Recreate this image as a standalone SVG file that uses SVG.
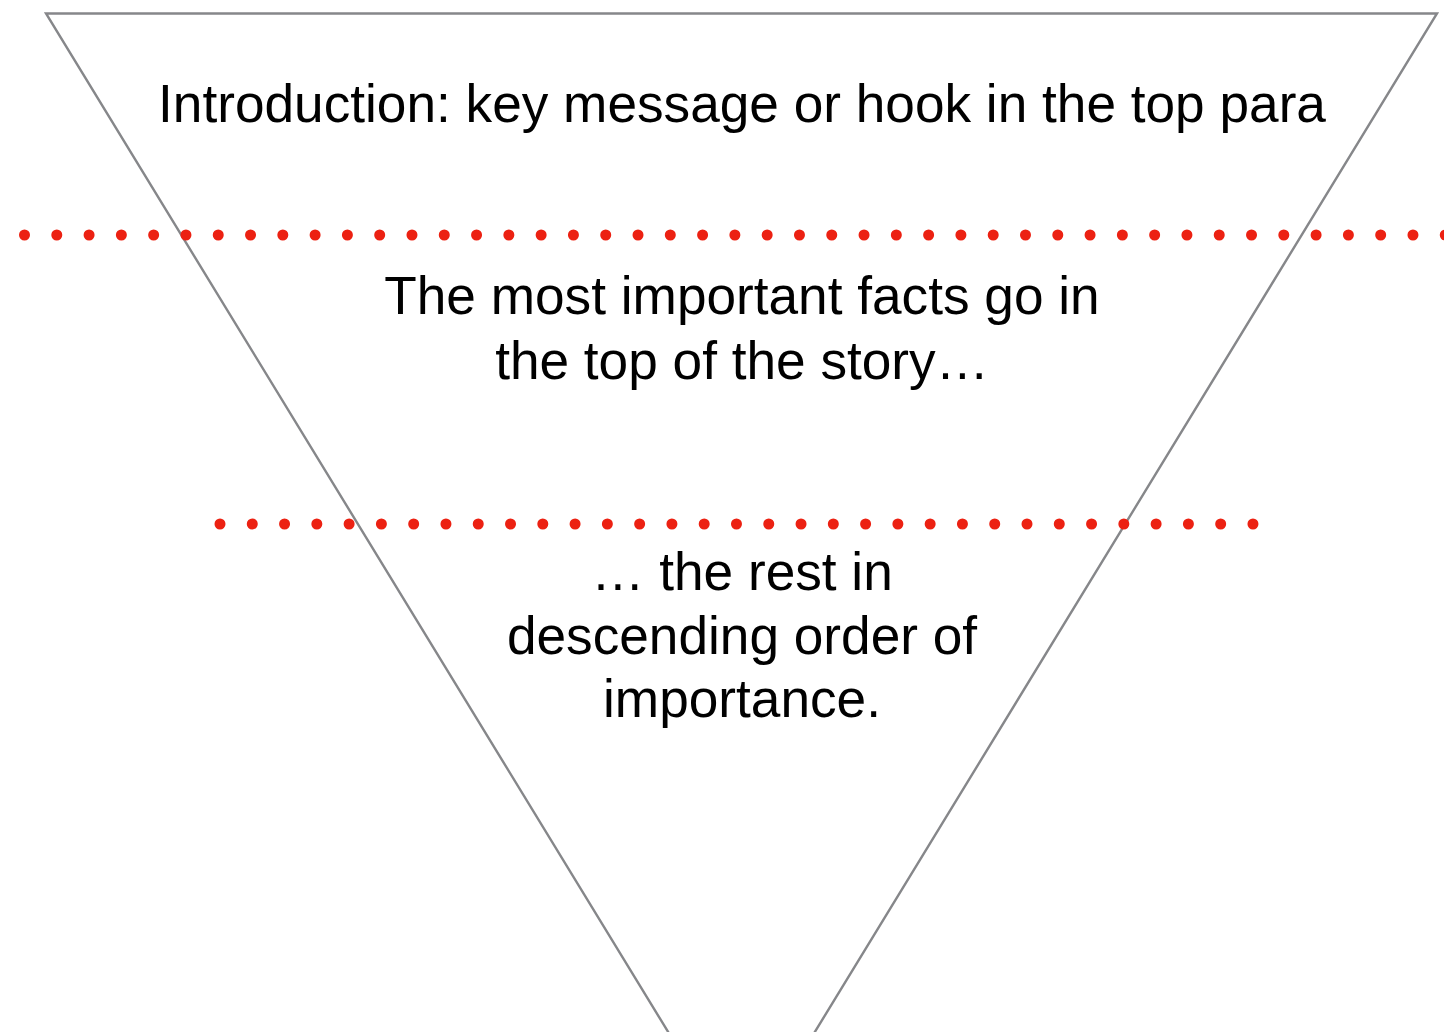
<svg xmlns="http://www.w3.org/2000/svg" width="1444" height="1032" viewBox="0 0 1444 1032">
<style>
.t{font-family:"Liberation Sans",Arial,sans-serif;font-size:53.2px;fill:#000;text-anchor:middle}
.dots{stroke:#ec2112;stroke-width:11;stroke-linecap:round;fill:none}
</style>
<rect width="1444" height="1032" fill="#fff"/>
<g id="pyramid">
<polygon points="46,13.5 1437,13.5 741.5,1152" fill="#fff" stroke="#86878a" stroke-width="2.4" stroke-linejoin="miter"/>
</g>
<g id="separators">
<line class="dots" x1="24.5" y1="235" x2="1460" y2="235" stroke-dasharray="0 32.29"/>
<line class="dots" x1="220" y1="524" x2="1253" y2="524" stroke-dasharray="0 32.28"/>
</g>
<g id="intro"><text class="t" x="742" y="122">Introduction: key message or hook in the top para</text></g>
<g id="important"><text class="t" x="742" y="314">The most important facts go in</text><text class="t" x="742" y="379">the top of the story…</text></g>
<g id="rest"><text class="t" x="742" y="590">… the rest in</text><text class="t" x="742" y="654">descending order of</text><text class="t" x="742" y="717">importance.</text></g>
</svg>
